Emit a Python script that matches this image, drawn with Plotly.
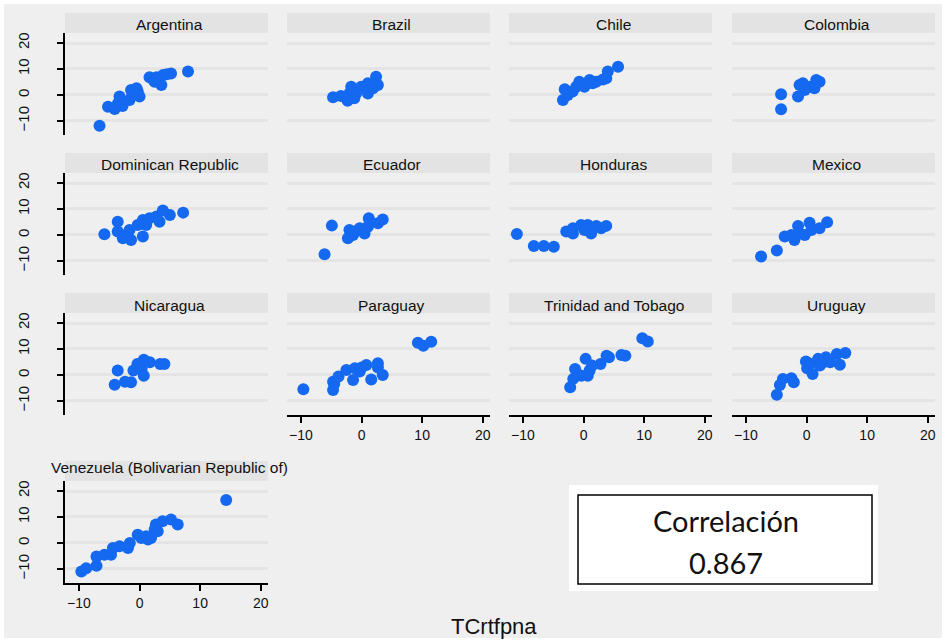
import plotly.graph_objects as go

countries = ["Argentina", "Brazil", "Chile", "Colombia",
             "Dominican Republic", "Ecuador", "Honduras", "Mexico",
             "Nicaragua", "Paraguay", "Trinidad and Tobago", "Uruguay",
             "Venezuela (Bolivarian Republic of)"]

arg_x = [-6.6, -5.2, -4.1, -3.6, -3.3, -2.8, -1.65, -1.4, -1.2, -0.5, -0.3, 0.0, 1.65, 2.3, 2.5, 2.8, 3.3, 3.6, 3.9, 4.5, 5.2, 8.0]
arg_y = [-11.8, -4.5, -5.4, -3.4, -0.6, -4.2, -1.9, 1.9, 0.1, 2.6, 1.3, -0.6, 6.8, 5.8, 5.1, 6.8, 6.4, 3.8, 7.7, 8.0, 8.3, 9.0]

bra_x = [-4.7, -3.4, -2.3, -2.0, -1.7, -1.2, -0.9, -0.05, 1.05, 1.05, 1.9, 2.4, 2.7]
bra_y = [-0.9, -0.4, -2.2, 0.6, 3.2, -1.3, 0.6, 3.2, 4.5, 0.6, 2.6, 7.0, 3.8]

chl_x = [-3.4, -3.1, -2.6, -1.8, -1.2, -0.7, 0.15, 1.0, 1.5, 2.1, 3.2, 3.75, 4.0, 5.7]
chl_y = [-1.9, 2.2, 0.0, 1.3, 3.2, 5.1, 3.2, 5.8, 4.5, 5.1, 6.0, 6.4, 9.0, 10.9]

col_x = [-4.2, -4.2, -1.4, -1.15, -0.6, -0.3, 0.5, 1.3, 1.6, 2.15]
col_y = [0.3, -5.5, -0.6, 3.8, 4.5, 1.9, 3.2, 2.6, 5.8, 5.1]

dom_x = [-5.8, -3.6, -3.6, -2.75, -2.2, -1.65, -1.4, -0.3, 0.55, 0.55, 1.1, 1.65, 2.8, 3.3, 3.85, 5.0, 7.2]
dom_y = [0.3, 5.1, 1.3, -1.3, 0.0, 1.9, -1.9, 3.8, -0.6, 5.8, 3.8, 6.4, 7.1, 5.1, 9.4, 7.7, 8.6]

ecu_x = [-6.1, -4.9, -2.25, -2.0, -1.4, -1.15, -0.3, 0.5, 1.05, 1.2, 2.7, 3.5]
ecu_y = [-7.4, 3.6, -1.3, 1.9, 0.0, 1.3, 2.6, 0.6, 3.2, 6.4, 4.5, 6.0]

hnd_x = [-11.0, -8.2, -6.55, -4.9, -2.85, -1.75, -1.75, -0.4, 0.15, 0.7, 1.25, 2.1, 2.9, 3.75]
hnd_y = [0.4, -4.2, -4.2, -4.5, 1.3, 2.6, 0.6, 3.8, 1.9, 3.8, 0.6, 3.5, 2.6, 3.5]

mex_x = [-7.5, -4.9, -3.6, -2.5, -2.0, -1.4, -1.15, -0.3, 0.5, 0.8, 2.15, 3.4]
mex_y = [-8.3, -6.0, -0.6, 0.0, -1.9, 3.5, 0.6, 0.0, 4.7, 1.9, 2.6, 4.9]

nic_x = [-4.1, -3.6, -2.4, -1.4, -1.0, -0.35, 0.35, 0.7, 0.7, 1.7, 3.4, 4.1]
nic_y = [-3.8, 1.7, -2.6, -2.8, 1.7, 4.2, 2.3, 5.9, -0.3, 4.9, 4.2, 4.2]

pry_x = [-9.6, -4.7, -4.7, -4.5, -3.8, -2.5, -1.4, -1.1, -0.3, 0.0, 0.8, 1.6, 2.7, 2.7, 3.5, 9.3, 10.2, 11.5]
pry_y = [-5.5, -5.8, -2.6, -3.5, -0.6, 1.9, -1.9, 2.6, 1.3, 2.9, 3.8, -1.7, 4.5, 2.9, 0.0, 12.4, 11.2, 12.8]

tto_x = [-2.2, -1.7, -1.4, -1.0, -0.35, 0.35, 0.7, 1.0, 1.4, 2.8, 3.8, 4.2, 6.25, 6.9, 9.7, 10.6]
tto_y = [-4.7, -1.5, 2.3, 0.4, -0.3, 6.2, -0.3, 1.7, 3.6, 4.2, 7.4, 6.8, 7.7, 7.4, 14.1, 12.9]

ury_x = [-4.9, -4.4, -3.9, -2.5, -2.1, -0.1, 0.1, 0.55, 1.0, 1.9, 2.2, 2.8, 3.2, 3.9, 5.0, 5.5, 6.4]
ury_y = [-7.6, -3.9, -1.5, -1.3, -2.8, 5.2, 2.6, 4.3, 0.4, 6.2, 3.6, 4.9, 6.8, 4.9, 8.1, 3.9, 8.5]

ven_x = [-9.6, -8.8, -7.1, -7.1, -5.8, -4.7, -4.4, -3.3, -1.9, -1.6, -0.3, 0.3, 1.1, 1.4, 1.9, 2.5, 2.7, 3.0, 3.8, 5.2, 6.3, 14.3]
ven_y = [-11.0, -9.7, -8.8, -5.2, -4.5, -4.5, -1.9, -1.3, -1.9, 0.0, 3.2, 1.9, 2.6, 1.3, 1.9, 5.2, 7.1, 4.5, 8.4, 9.0, 7.1, 16.5]

series_x = [arg_x, bra_x, chl_x, col_x, dom_x, ecu_x, hnd_x, mex_x, nic_x, pry_x, tto_x, ury_x, ven_x]
series_y = [arg_y, bra_y, chl_y, col_y, dom_y, ecu_y, hnd_y, mex_y, nic_y, pry_y, tto_y, ury_y, ven_y]

x_ticks = [-10, 0, 10, 20]
y_ticks = [-10, 0, 10, 20]
x_title = "TCrtfpna"
corr_label = "Correlación"
corr_value = "0.867"

# ---------------- layout geometry (pixels) ----------------
W, H = 946, 642
col_left = [65, 287, 509, 732]
row_top = [33, 173, 313, 481]
PW, PH = 203, 102
HDR = 20
XR = [-12.3, 21.2]
YR = [-15.4, 23.85]
BLUE = "#1469f0"
FONT = "Liberation Sans, Arial, sans-serif"

def fx(px):
    return px / W

def fy(py):
    return 1 - py / H

fig = go.Figure()
layout = dict(
    width=W, height=H, margin=dict(l=0, r=0, t=0, b=0),
    paper_bgcolor="white", plot_bgcolor="white", showlegend=False,
    font=dict(family=FONT, color="#111111"),
)
shapes = [dict(type="rect", xref="paper", yref="paper",
               x0=fx(4), x1=fx(W - 4), y0=fy(H - 4), y1=fy(4),
               fillcolor="#efefef", line=dict(width=0), layer="below")]
annotations = []

x_axis_panels = {9, 10, 11, 12}
for i, name in enumerate(countries):
    r, c = divmod(i, 4)
    L, T = col_left[c], row_top[r]
    k = i + 1
    xa = "xaxis" if k == 1 else f"xaxis{k}"
    ya = "yaxis" if k == 1 else f"yaxis{k}"
    fig.add_trace(go.Scatter(
        x=series_x[i], y=series_y[i], mode="markers",
        marker=dict(color=BLUE, size=12, line=dict(width=0)),
        xaxis=f"x{k}" if k > 1 else "x", yaxis=f"y{k}" if k > 1 else "y",
        hoverinfo="skip"))
    showx = i in x_axis_panels
    showy = c == 0
    layout[xa] = dict(
        domain=[fx(L), fx(L + PW)], range=XR, anchor=f"y{k}" if k > 1 else "y",
        showgrid=False, zeroline=False,
        showline=showx, linecolor="black", linewidth=2,
        ticks="outside" if showx else "", ticklen=6, tickwidth=2, tickcolor="black",
        tickvals=x_ticks, showticklabels=showx,
        tickfont=dict(size=14, family=FONT, color="#111111"),
        fixedrange=True)
    layout[ya] = dict(
        domain=[fy(T + PH), fy(T)], range=YR, anchor=f"x{k}" if k > 1 else "x",
        showgrid=True, gridcolor="#e4e4e4", gridwidth=3, zeroline=False,
        showline=showy, linecolor="black", linewidth=2,
        ticks="outside" if showy else "", ticklen=6, tickwidth=2, tickcolor="black",
        tickvals=y_ticks, showticklabels=showy, tickangle=270,
        ticklabelstandoff=22,
        tickfont=dict(size=15, family=FONT, color="#111111"),
        fixedrange=True)
    shapes.append(dict(type="rect", xref="paper", yref="paper",
                       x0=fx(L), x1=fx(L + PW), y0=fy(T), y1=fy(T - HDR),
                       fillcolor="#e3e3e3", line=dict(width=0), layer="below"))
    ty = T - 8 if r < 3 else T - 14
    annotations.append(dict(text=name, xref="paper", yref="paper",
                            x=fx(L + PW / 2 + 3), y=fy(ty), xanchor="center", yanchor="middle",
                            showarrow=False, font=dict(size=15.5, family=FONT, color="#111111")))

# correlation box
shapes.append(dict(type="rect", xref="paper", yref="paper",
                   x0=fx(569), x1=fx(878), y0=fy(591), y1=fy(485),
                   fillcolor="white", line=dict(width=0), layer="above"))
shapes.append(dict(type="rect", xref="paper", yref="paper",
                   x0=fx(578), x1=fx(872), y0=fy(584), y1=fy(495),
                   fillcolor="rgba(0,0,0,0)", line=dict(width=1.5, color="black"), layer="above"))
annotations.append(dict(text=corr_label, xref="paper", yref="paper", x=fx(726), y=fy(520),
                        xanchor="center", yanchor="middle", showarrow=False,
                        font=dict(size=29, family="Lato, sans-serif", color="#111111")))
annotations.append(dict(text=corr_value, xref="paper", yref="paper", x=fx(726), y=fy(562),
                        xanchor="center", yanchor="middle", showarrow=False,
                        font=dict(size=29, family="Lato, sans-serif", color="#111111")))
annotations.append(dict(text=x_title, xref="paper", yref="paper", x=fx(494), y=fy(626),
                        xanchor="center", yanchor="middle", showarrow=False,
                        font=dict(size=22, family=FONT, color="#111111")))

layout["shapes"] = shapes
layout["annotations"] = annotations
fig.update_layout(**layout)
fig.write_html("out.html")
